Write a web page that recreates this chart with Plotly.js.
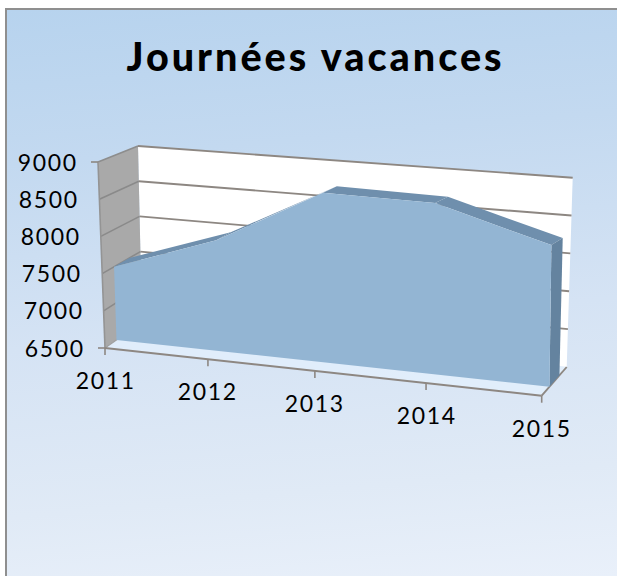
<!DOCTYPE html>
<html>
<head>
<meta charset="utf-8">
<script src="https://cdn.plot.ly/plotly-3.0.1.min.js"></script>
<style>
html,body{margin:0;padding:0;background:#fff;width:617px;height:576px;overflow:hidden}
#frame{position:absolute;left:5px;top:8px;width:612px;height:568px;box-sizing:border-box;border-left:2px solid #8f8f8f;border-top:2px solid #8f8f8f;
background:linear-gradient(175deg,#b7d3ee 0%,#c3d9f0 25%,#d5e3f4 55%,#e0eaf6 82%,#e9f0fa 100%)}
#plot{position:absolute;left:0;top:0;width:617px;height:576px}
.annotation text{letter-spacing:1.6px}
.annotation:last-of-type text{letter-spacing:3px}
</style>
</head>
<body>
<div id="frame"></div>
<div id="plot"></div>
<script>
const chartTitle = 'Journées vacances';
const years = ['2011','2012','2013','2014','2015'];
const values = [7500,7980,8720,8690,8270];
const yTicks = [6500,7000,7500,8000,8500,9000];

// 3D box view: the axis ends as seen on the page
const vMin = 6500, vMax = 9000, persp = -0.0747;
const frontBottom = [[105,348],[541.7,395.7]], frontTop = [[98,162],[543,190.7]];
const backBottom = [[142,322],[566.7,367]], backTop = [[138,146],[572.7,177.7]];
const areaFront = 0.31, areaBack = 0.71;

const mix = (a,b,u) => [a[0]+(b[0]-a[0])*u, a[1]+(b[1]-a[1])*u];
function project(t, v, d){
  const s = t*(1+persp)/(1+persp*t), f = (v-vMin)/(vMax-vMin);
  const fr = mix(mix(frontBottom[0],frontBottom[1],s), mix(frontTop[0],frontTop[1],s), f);
  const bk = mix(mix(backBottom[0],backBottom[1],s), mix(backTop[0],backTop[1],s), f);
  return mix(fr,bk,d);
}
const tOf = i => i/(years.length-1);

const traces = [];
function poly(pts, fill){
  traces.push({type:'scatter',mode:'lines',x:pts.map(p=>p[0]).concat(pts[0][0]),y:pts.map(p=>p[1]).concat(pts[0][1]),
    fill:'toself',fillcolor:fill,line:{width:0},hoverinfo:'skip',showlegend:false});
}
function line(pts, color, width){
  traces.push({type:'scatter',mode:'lines',x:pts.map(p=>p[0]),y:pts.map(p=>p[1]),
    line:{color:color,width:width},hoverinfo:'skip',showlegend:false});
}

// walls and floor
poly([project(0,vMin,1),project(1,vMin,1),project(1,vMax,1),project(0,vMax,1)],'#ffffff');
poly([project(0,vMin,0),project(0,vMin,1),project(0,vMax,1),project(0,vMax,0)],'#a9a9a9');
poly([project(0,vMin,0),project(1,vMin,0),project(1,vMin,1),project(0,vMin,1)],'rgba(226,238,251,0.85)');

// gridlines
yTicks.forEach(v=>{
  if(v>vMin) line([project(0,v,1),project(1,v,1)],'#8d8782',1.9);
  if(v>vMin && v<vMax) line([project(0,v,0),project(0,v,1)],'#8a8a8a',1.6);
});
line([project(0,vMax,0),project(0,vMax,1)],'#8d8d8d',1.8);
line([project(0,vMin,0),project(0,vMax,0)],'#949494',1.6);
line([project(0,vMin,0),project(0,vMin,1)],'#a0a0a0',1.2);
line([project(1,vMin,0),project(1,vMin,1)],'#8d8782',1.9);
line([project(0,vMin,0),project(1,vMin,0)],'#8d8782',2);

// area: top band, right end, front face
for(let i=0;i<values.length-1;i++){
  const a=tOf(i), b=tOf(i+1);
  poly([project(a,values[i],areaFront),project(b,values[i+1],areaFront),project(b,values[i+1],areaBack),project(a,values[i],areaBack)],'#6f8fad');
}
const last=values.length-1;
poly([project(1,vMin,areaFront),project(1,values[last],areaFront),project(1,values[last],areaBack),project(1,vMin,areaBack)],'#64839f');
const front=values.map((v,i)=>project(tOf(i),v,areaFront));
poly([project(0,vMin,areaFront)].concat(front,[project(1,vMin,areaFront)]),'#93b5d3');

// tick marks
years.forEach((y,i)=>{
  const p=project(tOf(i),vMin,0);
  line([p,[p[0],p[1]+7]],'#8d8782',1.6);
});
[vMin,vMax].forEach(v=>{
  const p=project(0,v,0);
  line([p,[p[0]-7,p[1]]],'#8d8782',1.6);
});

const labelFont={family:'Lato, "Noto Sans", sans-serif',size:23,color:'#000'};
const annotations=[];
yTicks.forEach(v=>{
  const p=project(0,v,0);
  annotations.push({x:p[0]-22,y:p[1]-0.5,xref:'x',yref:'y',xanchor:'right',yanchor:'middle',showarrow:false,text:String(v),font:labelFont});
});
years.forEach((y,i)=>{
  const p=project(tOf(i),vMin,0);
  annotations.push({x:p[0],y:p[1]+32,xref:'x',yref:'y',xanchor:'center',yanchor:'middle',showarrow:false,text:y,font:labelFont});
});
annotations.push({x:315,y:55,xref:'x',yref:'y',xanchor:'center',yanchor:'middle',showarrow:false,text:chartTitle,
  font:{family:'Lato, "Noto Sans", sans-serif',size:39.5,weight:900,color:'#000'}});

Plotly.newPlot('plot',traces,{
  width:617,height:576,margin:{l:0,r:0,t:0,b:0},
  paper_bgcolor:'rgba(0,0,0,0)',plot_bgcolor:'rgba(0,0,0,0)',showlegend:false,
  xaxis:{visible:false,range:[0,617],fixedrange:true},
  yaxis:{visible:false,range:[576,0],fixedrange:true},
  annotations:annotations
},{displayModeBar:false,staticPlot:true});
</script>
</body>
</html>
